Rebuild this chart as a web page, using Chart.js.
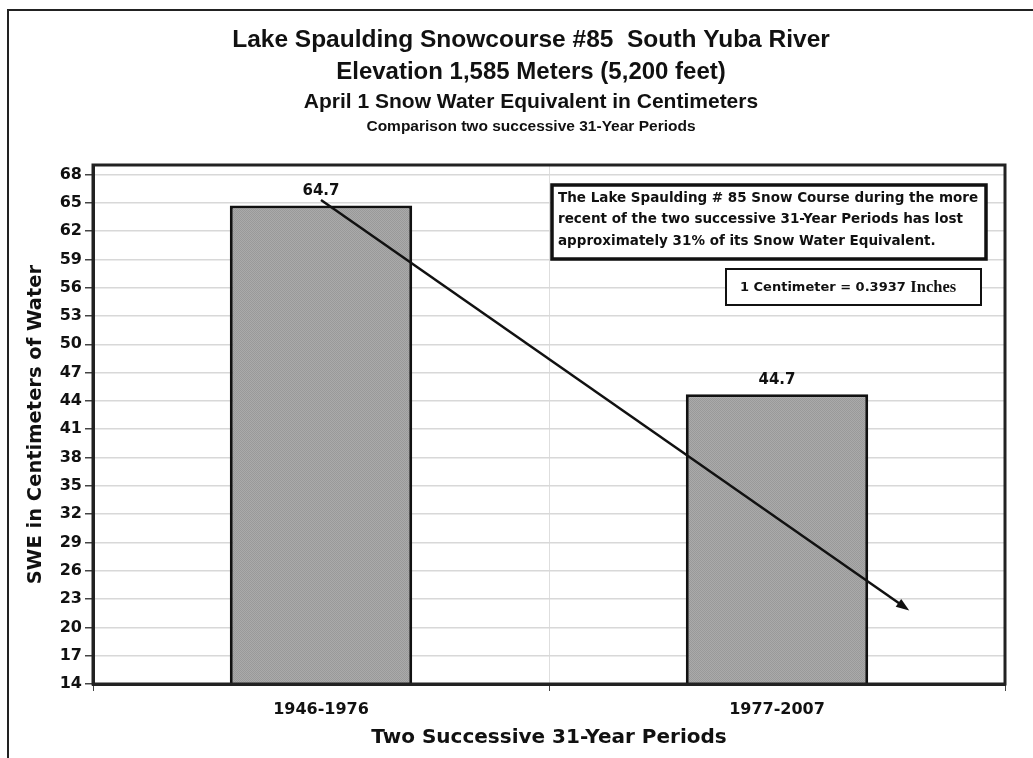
<!DOCTYPE html>
<html>
<head>
<meta charset="utf-8">
<script src="https://cdn.jsdelivr.net/npm/chart.js@4"></script>
<style>
  html, body { margin: 0; padding: 0; background: #fff; }
  #wrap { width: 1033px; height: 758px; position: relative; }
</style>
</head>
<body>
<div id="wrap"><canvas id="snow"></canvas></div>
<script>
// data
const periods = ['1946-1976', '1977-2007'];
const swe = [64.7, 44.7];
const yTicks = [14, 17, 20, 23, 26, 29, 32, 35, 38, 41, 44, 47, 50, 53, 56, 59, 62, 65, 68];
// trend arrow, in (category index, centimeters)
const arrowFrom = [0, 65.3];
const arrowTo = [1.29, 21.8];

const titleLines = [
    ['Lake Spaulding Snowcourse #85  South Yuba River', 'bold 24.5px "Liberation Sans", Arial', 40],
    ['Elevation 1,585 Meters (5,200 feet)', 'bold 24px "Liberation Sans", Arial', 72],
    ['April 1 Snow Water Equivalent in Centimeters', 'bold 21px "Liberation Sans", Arial', 102],
    ['Comparison two successive 31-Year Periods', 'bold 15.5px "Liberation Sans", Arial', 127]
];
const noteLines = [
    'The Lake Spaulding # 85 Snow Course during the more',
    'recent of the two successive 31-Year Periods has lost',
    'approximately 31% of its Snow Water Equivalent.'
];
const sans = '"DejaVu Sans", Verdana, sans-serif';

// stippled grey like the original bars
function stipple() {
    const c = document.createElement('canvas');
    c.width = 2; c.height = 2;
    const g = c.getContext('2d');
    g.fillStyle = '#aaaaaa';
    g.fillRect(0, 0, 2, 2);
    g.fillStyle = '#999999';
    g.fillRect(0, 0, 1, 1);
    g.fillRect(1, 1, 1, 1);
    return g.createPattern(c, 'repeat');
}

const extras = {
    id: 'extras',
    beforeDraw(chart) {
        const ctx = chart.ctx;
        ctx.save();
        ctx.fillStyle = '#fff';
        ctx.fillRect(0, 0, chart.width, chart.height);
        // outer frame (open at right and bottom)
        ctx.strokeStyle = '#222';
        ctx.lineWidth = 2;
        ctx.beginPath();
        ctx.moveTo(8, chart.height);
        ctx.lineTo(8, 10);
        ctx.lineTo(chart.width, 10);
        ctx.stroke();
        // titles
        ctx.fillStyle = '#111';
        ctx.textAlign = 'center';
        ctx.textBaseline = 'middle';
        titleLines.forEach(t => {
            ctx.font = t[1];
            ctx.fillText(t[0], 531, t[2]);
        });
        ctx.restore();
    },
    afterDatasetsDraw(chart) {
        const ctx = chart.ctx;
        const ca = chart.chartArea;
        const xs = chart.scales.x, ys = chart.scales.y;
        ctx.save();
        // plot border
        ctx.strokeStyle = '#222';
        ctx.lineWidth = 3;
        ctx.strokeRect(ca.left, ca.top, ca.right - ca.left, ca.bottom - ca.top);

        // value labels
        ctx.fillStyle = '#111';
        ctx.font = 'bold 15px ' + sans;
        ctx.textAlign = 'center';
        ctx.textBaseline = 'bottom';
        chart.getDatasetMeta(0).data.forEach((bar, i) => {
            ctx.fillText(swe[i].toFixed(1), bar.x, bar.y - 7);
        });

        // trend arrow
        const x1 = xs.getPixelForValue(arrowFrom[0]), y1 = ys.getPixelForValue(arrowFrom[1]);
        const x2 = xs.getPixelForValue(arrowTo[0]), y2 = ys.getPixelForValue(arrowTo[1]);
        const ang = Math.atan2(y2 - y1, x2 - x1);
        ctx.strokeStyle = '#111';
        ctx.lineWidth = 2.5;
        ctx.beginPath();
        ctx.moveTo(x1, y1);
        ctx.lineTo(x2 - 8 * Math.cos(ang), y2 - 8 * Math.sin(ang));
        ctx.stroke();
        ctx.beginPath();
        ctx.moveTo(x2, y2);
        ctx.lineTo(x2 - 14 * Math.cos(ang - 0.35), y2 - 14 * Math.sin(ang - 0.35));
        ctx.lineTo(x2 - 14 * Math.cos(ang + 0.35), y2 - 14 * Math.sin(ang + 0.35));
        ctx.closePath();
        ctx.fill();

        // note box
        const bx = ca.right - 453, by = ca.top + 20;
        ctx.fillStyle = '#fff';
        ctx.fillRect(bx, by, 434, 74);
        ctx.lineWidth = 3.5;
        ctx.strokeRect(bx, by, 434, 74);
        ctx.fillStyle = '#111';
        ctx.font = 'bold 13.5px ' + sans;
        ctx.textAlign = 'left';
        ctx.textBaseline = 'middle';
        noteLines.forEach((s, i) => ctx.fillText(s, bx + 6, by + 13 + i * 21.5));

        // unit box
        const ux = ca.right - 279, uy = ca.top + 104;
        ctx.fillStyle = '#fff';
        ctx.fillRect(ux, uy, 255, 36);
        ctx.lineWidth = 2;
        ctx.strokeRect(ux, uy, 255, 36);
        ctx.fillStyle = '#111';
        ctx.font = 'bold 13px ' + sans;
        const part1 = '1 Centimeter = 0.3937 ';
        const w1 = ctx.measureText(part1).width;
        ctx.fillText(part1, ux + 14, uy + 19);
        ctx.font = 'bold 16.5px "Liberation Serif", "Times New Roman", serif';
        ctx.fillText('Inches', ux + 14 + w1, uy + 19);
        ctx.restore();
    }
};

const chart = new Chart(document.getElementById('snow'), {
    type: 'bar',
    data: {
        labels: periods,
        datasets: [{
            data: swe,
            backgroundColor: stipple(),
            borderColor: '#111',
            borderWidth: 3,
            borderSkipped: false,
            barPercentage: 0.4,
            categoryPercentage: 1
        }]
    },
    options: {
        responsive: true,
        maintainAspectRatio: false,
        animation: false,
        layout: { padding: { left: 0, right: 28, top: 165, bottom: 0 } },
        plugins: {
            legend: { display: false },
            tooltip: { enabled: false }
        },
        scales: {
            x: {
                afterFit(scale) { scale.height = 74; },
                grid: {
                    offset: true,
                    color: '#dedede',
                    tickColor: '#444',
                    tickLength: 7,
                    lineWidth: 1
                },
                border: { color: '#222', width: 3 },
                ticks: {
                    color: '#111',
                    padding: 9,
                    font: { family: sans, size: 16, weight: 'bold' }
                },
                title: {
                    display: true,
                    text: 'Two Successive 31-Year Periods',
                    color: '#111',
                    padding: { top: 0, bottom: 8 },
                    font: { family: sans, size: 20, weight: 'bold' }
                }
            },
            y: {
                min: 14,
                max: 69,
                afterFit(scale) { scale.width = 93; },
                afterBuildTicks(scale) { scale.ticks = yTicks.map(v => ({ value: v })); },
                grid: {
                    color: '#d8d8d8',
                    tickColor: '#444',
                    tickLength: 8,
                    lineWidth: 1.5
                },
                border: { color: '#222', width: 3 },
                ticks: {
                    color: '#111',
                    padding: 3,
                    font: { family: sans, size: 16, weight: 'bold' }
                },
                title: {
                    display: true,
                    text: 'SWE in Centimeters of Water',
                    color: '#111',
                    padding: { top: 24, bottom: 0 },
                    font: { family: sans, size: 19.5, weight: 'bold' }
                }
            }
        }
    },
    plugins: [extras]
});
</script>
</body>
</html>
